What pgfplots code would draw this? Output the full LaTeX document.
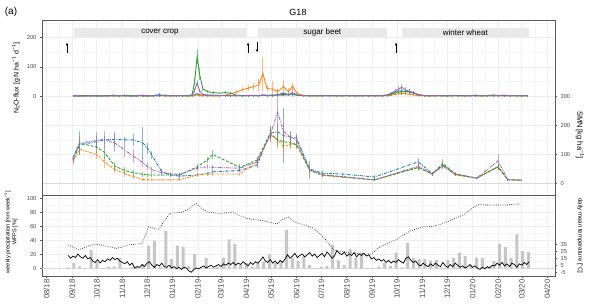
\documentclass[border=0pt]{standalone}
\usepackage{pgfplots}
\pgfplotsset{compat=1.18}
\usepackage{pgfplotstable}
\usepackage{fontspec}
\setmainfont{Liberation Sans}
\usetikzlibrary{arrows.meta}

\definecolor{cB}{HTML}{1F77B4}
\definecolor{cO}{HTML}{FF7F0E}
\definecolor{cG}{HTML}{2CA02C}
\definecolor{cP}{HTML}{9467BD}
\definecolor{frame}{HTML}{5A5A5A}
\definecolor{tickc}{HTML}{4D4D4D}

\pgfplotstableread{
d B Be O Oe G Ge P Pe
32 1 2 0 1 1 2 2 2
39 0 1 2 2 0 1 1 1
46 1 2 1 1 2 2 0 1
53 2 2 0 1 1 1 1 2
60 0 1 1 2 1 2 2 2
67 1 2 2 1 0 1 1 1
74 1 1 0 1 2 2 0 2
81 3 3 1 2 1 1 2 3
88 1 2 2 1 0 1 1 1
95 2 2 1 2 3 3 1 2
102 1 1 0 1 1 2 0 1
109 0 1 1 1 2 2 1 2
116 2 2 1 2 1 1 3 4
123 1 2 0 1 0 1 1 2
130 2 2 1 1 2 3 1 1
137 5 4 2 2 1 2 2 3
144 1 2 1 1 3 3 1 2
151 2 2 0 1 1 2 1 1
158 1 1 1 2 2 2 2 2
165 2 2 1 1 1 1 1 1
172 1 1 0 1 2 2 1 2
177 2 2 1 1 5 4 3 3
180 4 3 2 2 50 15 20 8
183 8 4 4 3 135 25 45 10
186 5 3 2 2 75 20 18 6
190 3 2 1 1 25 8 6 3
196 2 2 1 2 15 5 4 2
203 3 2 0 1 12 4 3 2
210 2 2 1 1 10 3 2 2
217 2 1 3 2 12 4 2 1
224 1 2 8 4 10 3 1 2
231 2 2 14 6 3 2 2 2
238 1 1 22 8 2 2 1 1
245 2 2 27 10 1 1 2 2
252 3 2 33 12 2 2 2 2
258 2 2 38 20 1 1 1 1
263 4 3 77 58 3 2 3 2
268 3 2 26 12 2 2 2 2
275 2 2 24 28 4 3 1 2
281 5 3 15 10 3 2 4 3
288 10 5 32 22 6 4 3 2
294 6 4 15 12 4 3 5 3
299 8 4 34 12 5 3 12 14
305 3 2 8 5 3 2 4 3
312 2 2 3 2 2 2 2 2
320 1 1 1 1 1 1 1 1
328 2 2 0 1 2 2 1 2
336 1 1 1 2 1 1 2 2
344 2 2 2 1 1 2 1 1
352 1 1 0 1 2 2 1 2
360 1 2 1 1 1 1 2 2
368 2 2 1 2 1 2 1 1
376 1 1 0 1 2 2 1 2
384 1 2 1 1 1 1 2 2
392 2 2 1 1 1 2 1 1
400 1 1 0 1 2 2 1 2
408 2 2 1 1 1 1 2 2
414 3 2 1 1 3 2 4 3
419 8 4 3 2 6 4 10 5
424 12 6 6 3 12 6 18 8
428 16 8 8 4 15 8 24 10
432 18 8 10 5 14 9 30 12
436 15 7 8 4 16 10 22 9
441 14 6 6 3 15 8 16 7
446 10 5 4 3 12 6 12 5
452 4 3 2 2 5 3 5 3
459 2 2 1 1 2 2 2 2
466 2 2 0 1 1 1 1 1
473 1 1 1 1 2 2 2 2
480 2 2 1 2 1 1 1 1
487 1 1 0 1 2 2 1 2
494 3 2 1 1 1 1 2 2
501 1 1 2 2 2 2 1 1
508 2 2 0 1 1 1 1 2
515 1 1 1 1 2 2 2 2
522 2 2 1 2 3 3 1 1
529 1 1 0 1 1 1 2 2
536 2 2 1 1 2 2 1 1
543 1 1 2 2 4 3 1 2
550 2 2 1 1 2 2 2 2
557 3 2 0 1 3 2 1 1
564 1 1 1 1 1 1 2 2
571 2 2 1 2 2 2 1 1
578 1 1 0 1 1 1 2 2
585 1 1 1 1 2 2 1 1
}\flux

\pgfplotstableread{
d B Be O Oe G Ge P Pe
32 81 8 75 12 90 8 85 10
40 133 15 118 20 139 40 139 25
61 144 20 100 15 125 20 148 30
70 150 15 75 20 108 25 152 30
83 152 25 48 10 60 15 139 30
95 150 10 35 12 45 12 115 25
105 150 20 24 8 38 10 95 25
117 140 55 15 6 32 8 72 15
123 120 20 13 5 30 6 58 12
128 98 15 13 5 30 6 48 10
140 41 8 13 4 30 5 38 8
150 30 6 13 4 30 5 34 6
162 26 5 14 4 30 5 32 6
183 30 5 30 6 58 10 53 8
195 35 5 31 6 80 10 58 8
202 41 6 33 6 100 15 56 8
235 45 5 33 5 56 10 53 6
256 64 10 75 15 81 12 75 12
272 173 20 167 20 173 25 167 25
281 178 25 150 30 150 20 245 80
288 165 95 127 25 144 20 180 25
296 160 20 135 15 140 15 160 15
304 156 15 139 12 133 15 150 12
320 50 8 45 10 47 30 47 8
336 36 10 28 6 30 6 30 6
360 33 5 22 4 24 4 24 4
399 23 8 13 4 13 5 13 4
452 75 12 58 10 55 10 60 10
469 35 6 33 6 33 6 33 6
482 64 10 62 10 70 15 60 10
497 33 5 30 5 33 6 33 5
523 19 4 19 4 19 4 19 4
549 58 10 58 10 58 10 78 25
561 14 3 14 3 14 3 14 3
578 12 2 12 2 12 2 12 2
}\smn

\pgfplotstableread{
d p
26 2
33 8
40 3.5
47 1
54 26.5
61 10
68 1
75 2.5
82 3.5
89 15
96 1
103 2
110 4
117 7
124 33
131 40
138 3
145 54
152 14
159 33
166 31
173 4
180 21
187 1
194 15
201 1
208 3
215 15
222 42
229 35
236 5
243 8
250 3
257 8
264 10
271 20.5
278 8
285 10
292 56
299 15
306 11
313 18
320 5
327 1
334 3
341 4
348 34
355 12
362 5
369 28
376 16
383 23
390 1
397 1
404 3
411 8.5
418 4
425 23
432 2
439 37
446 15
453 14
460 14
467 11.5
474 12.5
481 2
488 12.5
495 16
502 23
509 18
516 5
523 16
530 15
537 3
544 11
551 36
558 31
565 15
572 49
579 25
586 24
}\prec

\pgfplotstableread{
d w
26 34
32 31
38 27
46 30
52 33
59 35
66 34
72 32
77 31
85 29
92 31
99 34
108 35
116 36
119 45
124 60
130 58
136 56
143 68
150 79
158 80
166 81
174 87
182 93
188 87
195 81
203 80
211 79
219 80
227 80.5
235 76
243 72
254 70
264 68.6
272 66
280 64
287 70
294 74
300 68
306 65
315 62
324 58
330 52
336 46
343 36
349 27
355 25
361 24
369 23
377 22
386 21
395 21
400 26
405 31
416 37
426 42
434 48
442 54
450 57
458 60
468 60
478 63
487 67
497 72
507 77
516 85
525 92
534 91
543 91
552 91
560 91
568 92
576 92.5
}\wfps

\pgfplotstableread{
d t
26 19
29 15
32 18
35 16
38 21
41 17
44 15
47 19
50 14
53 16
56 11
59 9
62 13
65 8
68 12
71 10
74 14
77 12
80 16
83 13
86 15
89 11
92 9
95 7
98 10
101 5
104 8
107 1
110 3
113 2
116 6
119 3
122 8
125 10
128 5
131 2
134 6
137 4
140 8
143 3
146 2
149 5
152 1
155 3
158 0
161 2
164 -1
167 2
170 1
173 -3
176 -5
179 -1
182 1
185 0
188 2
191 4
194 1
197 3
200 5
203 2
206 4
209 6
212 3
215 7
218 5
221 8
224 6
227 9
230 5
233 8
236 6
239 10
242 7
245 4
248 9
251 6
254 10
257 8
260 12
263 17
266 11
269 9
272 13
275 8
278 11
281 7
284 12
287 9
290 14
293 20
296 15
299 18
302 22
305 16
308 19
311 21
314 17
317 20
320 23
323 18
326 21
329 16
332 19
335 22
338 17
341 24
344 20
347 15
350 18
353 26
356 22
359 20
362 24
365 18
368 21
371 19
374 23
377 17
380 21
383 19
386 22
389 18
392 20
395 14
398 16
401 12
404 14
407 11
410 13
413 9
416 12
419 8
422 11
425 9
428 13
431 10
434 8
437 15
440 17
443 12
446 9
449 11
452 6
455 4
458 8
461 5
464 3
467 7
470 4
473 8
476 5
479 3
482 9
485 4
488 2
491 6
494 3
497 8
500 5
503 2
506 4
509 1
512 3
515 6
518 2
521 4
524 1
527 -1
530 2
533 0
536 3
539 1
542 5
545 4
548 8
551 5
554 9
557 4
560 7
563 3
566 8
569 6
572 2
575 7
578 5
581 9
584 6
587 10
}\temp

\pgfplotsset{
  base/.style={
    scale only axis, width=513pt,
    xmin=-5.7, xmax=618.4,
    tick align=outside, major tick length=2pt, minor tick length=0pt,
    tick style={frame, line width=0.5pt},
    axis line style={-, frame, line width=0.9pt},
    tick label style={font=\fontsize{5.8}{7}\selectfont, text=tickc},
    /pgf/number format/assume math mode=true,
  },
  months/.style={
    xtick={0,31,61,92,122,153,184,212,243,273,304,334,365,396,426,457,487,518,549,578,609},
    minor xtick={15,46,76,107,137,168,198,227,258,288,319,349,380,411,441,472,502,533,563,594},
  },
  gridst/.style={
    grid=both, major grid style={gray!13, line width=0.7pt},
    minor grid style={gray!7, line width=0.5pt},
  },
  errline/.style={line width=0.85pt, #1,
    error bars/y dir=both, error bars/y explicit, error bars/error mark=none,
    error bars/error bar style={solid, line width=0.9pt, #1, opacity=0.55}},
}

\begin{document}
\begin{tikzpicture}
\useasboundingbox (0,0) rectangle (600pt,303pt);

% ---------- upper panel: grid ----------
\begin{axis}[base, months, gridst, at={(42pt,108pt)}, anchor=south west, height=175pt,
  ymin=-38.7, ymax=560.6,
  ytick={0,100,200,300,400,500}, minor ytick={50,150,250,350,450,550},
  xticklabels={}, yticklabels={}, major tick length=0pt,
  axis line style={draw=none},
  extra y ticks={0}, extra y tick labels={},
  extra y tick style={grid=major, major grid style={gray!28, line width=1.3pt}}]
\addplot[draw=none] coordinates {(0,0)};
\end{axis}

% ---------- upper panel: SMN (right axis) ----------
\begin{axis}[base, at={(42pt,108pt)}, anchor=south west, height=175pt,
  ymin=-38.7, ymax=560.6, xtick=\empty,
  ytick={0,100,200,300}, ytick pos=right, yticklabel pos=right]
\addplot[dash pattern=on 3pt off 1.2pt on 0.8pt off 1.2pt, errline=cB] table[x=d,y=B,y error=Be] {\smn};
\addplot[dash pattern=on 2.2pt off 1pt on 0.8pt off 1pt, errline=cO] table[x=d,y=O,y error=Oe] {\smn};
\addplot[dash pattern=on 3pt off 1.5pt, errline=cG] table[x=d,y=G,y error=Ge] {\smn};
\addplot[dash pattern=on 3pt off 1pt on 0.8pt off 1pt on 0.8pt off 1pt, errline=cP] table[x=d,y=P,y error=Pe] {\smn};
% crop periods
\fill[gray!17] (axis cs:33.3,502) rectangle (axis cs:242.4,533);
\fill[gray!17] (axis cs:257,502) rectangle (axis cs:413.6,533);
\fill[gray!17] (axis cs:432,502) rectangle (axis cs:586.7,533);
\node[font=\fontsize{8}{9}\selectfont] at (axis cs:137.8,517.5) {cover crop};
\node[font=\fontsize{8}{9}\selectfont] at (axis cs:335.3,517.5) {sugar beet};
\node[font=\fontsize{8}{9}\selectfont] at (axis cs:509.3,517.5) {winter wheat};
% arrows
\draw[-{Latex[length=3pt,width=2.6pt]}, line width=0.9pt] (axis cs:24.7,449) -- (axis cs:24.7,484);
\draw[-{Latex[length=3pt,width=2.6pt]}, line width=0.9pt] (axis cs:245,449) -- (axis cs:245,484);
\draw[-{Latex[length=3pt,width=2.6pt]}, line width=0.9pt] (axis cs:256,484) -- (axis cs:256,449);
\draw[-{Latex[length=3pt,width=2.6pt]}, line width=0.9pt] (axis cs:425,449) -- (axis cs:425,484);
\end{axis}

% ---------- upper panel: N2O flux (left axis) ----------
\begin{axis}[base, at={(42pt,108pt)}, anchor=south west, height=175pt,
  ymin=-338.7, ymax=260.6, axis x line=none, axis y line*=left,
  ytick={0,100,200}]
\addplot[errline=cB] table[x=d,y=B,y error=Be] {\flux};
\addplot[errline=cO] table[x=d,y=O,y error=Oe] {\flux};
\addplot[errline=cG] table[x=d,y=G,y error=Ge] {\flux};
\addplot[errline=cP] table[x=d,y=P,y error=Pe] {\flux};
\end{axis}

% ---------- lower panel ----------
\begin{axis}[base, months, gridst, at={(42pt,27pt)}, anchor=south west, height=81pt,
  ymin=-10.4, ymax=105.3,
  ytick={0,20,40,60,80,100}, minor ytick={10,30,50,70,90},
  ytick pos=left, xtick pos=bottom,
  xticklabels={08/18,09/18,10/18,11/18,12/18,01/19,02/19,03/19,04/19,05/19,06/19,07/19,08/19,09/19,10/19,11/19,12/19,01/20,02/20,03/20,04/20},
  xticklabel style={rotate=90, anchor=east, font=\fontsize{7.8}{8}\selectfont, inner sep=1.2pt},
  extra y ticks={0}, extra y tick labels={},
  extra y tick style={grid=major, major grid style={gray!28, line width=1.3pt}}]
\addplot[ybar, bar width=3pt, fill=gray!45, draw=none] table[x=d,y=p] {\prec};
\addplot[gray!35!black, line width=0.65pt, dash pattern=on 0.8pt off 1.4pt] table[x=d,y=w] {\wfps};
\addplot[black, line width=0.7pt] table[x=d,y=t] {\temp};
\end{axis}

% ---------- lower panel: temperature (right axis) ----------
\begin{axis}[base, at={(42pt,27pt)}, anchor=south west, height=81pt,
  ymin=-10.4, ymax=105.3, axis x line=none, axis y line*=right,
  ytick={-5,5,15,25,35}]
\addplot[draw=none] coordinates {(0,0)};
\end{axis}

% ---------- titles and labels ----------
\node[font=\fontsize{10}{12}\selectfont] at (11pt,291pt) {(a)};
\node[font=\fontsize{9}{11}\selectfont] at (298pt,291pt) {G18};
\node[rotate=90, font=\fontsize{7}{8}\selectfont] at (16pt,225pt) {N\textsubscript{2}O-flux [g N ha\textsuperscript{−1} d\textsuperscript{−1}]};
\node[rotate=-90, font=\fontsize{7.5}{9}\selectfont] at (580pt,168pt) {SMN [kg ha\textsuperscript{−1}]};
\node[rotate=90, align=center, font=\fontsize{5.6}{6.6}\selectfont] at (11pt,71pt) {weekly precipitation [mm week\textsuperscript{−1}]\\WFPS [\%]};
\node[rotate=-90, font=\fontsize{6}{7}\selectfont] at (580pt,67pt) {daily mean temperature [°C]};
\end{tikzpicture}
\end{document}
